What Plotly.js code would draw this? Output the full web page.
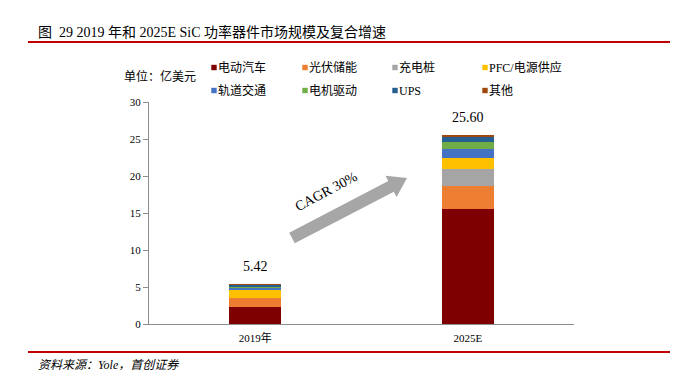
<!DOCTYPE html>
<html>
<head>
<meta charset="utf-8">
<script src="https://cdn.plot.ly/plotly-3.0.1.min.js"></script>
<style>html,body{margin:0;padding:0;background:#fff;}#chart{width:684px;height:381px;}</style>
</head>
<body>
<div id="chart"></div>
<script>
// ---- data ----
const categories = ["2019年", "2025E"];
const seriesNames = ["电动汽车", "光伏储能", "充电桩", "PFC/电源供应", "轨道交通", "电机驱动", "UPS", "其他"];
const evValues      = [2.30, 15.50];
const pvValues      = [1.22, 3.15];
const chargeValues  = [0.05, 2.26];
const pfcValues     = [1.04, 1.58];
const railValues    = [0.20, 1.16];
const motorValues   = [0.20, 0.95];
const upsValues     = [0.30, 0.68];
const otherValues   = [0.11, 0.32];
const totals        = [5.42, 25.60];
const totalLabels   = ["5.42", "25.60"];
const yTicks        = [0, 5, 10, 15, 20, 25, 30];

const seriesValues = [evValues, pvValues, chargeValues, pfcValues, railValues, motorValues, upsValues, otherValues];
const colors = ["#7f0000", "#ed7d31", "#a5a5a5", "#ffc000", "#4472c4", "#70ad47", "#255e91", "#9e480e"];

// ---- geometry helpers (pixel -> paper) ----
const L = 149, R = 574, T = 102, B = 324;
const px = x => (x - L) / (R - L);
const py = y => (B - y) / (B - T);

const serif = "Liberation Serif, Times New Roman, Noto Sans CJK SC, serif";
const cjk = "Liberation Serif, Noto Sans CJK SC, sans-serif";

const legendKey = i => (i === 0 ? "legend" : "legend" + (i + 1));

const traces = seriesNames.map((name, i) => ({
  type: "bar",
  name: name,
  x: categories,
  y: seriesValues[i],
  marker: {color: colors[i], line: {width: 0}},
  legend: legendKey(i),
  hoverinfo: "skip"
}));

// arrow polygon (pixel space)
const tail = [292, 238], tip = [407, 178];
const dx = tip[0] - tail[0], dy = tip[1] - tail[1];
const len = Math.hypot(dx, dy);
const u = [dx / len, dy / len], n = [-u[1], u[0]];
const bw = 6, hw = 12, hl = 18;
const base = [tip[0] - hl * u[0], tip[1] - hl * u[1]];
const pts = [
  [tail[0] - bw * n[0], tail[1] - bw * n[1]],
  [base[0] - bw * n[0], base[1] - bw * n[1]],
  [base[0] - hw * n[0], base[1] - hw * n[1]],
  tip,
  [base[0] + hw * n[0], base[1] + hw * n[1]],
  [base[0] + bw * n[0], base[1] + bw * n[1]],
  [tail[0] + bw * n[0], tail[1] + bw * n[1]]
];
const arrowPath = "M " + pts.map(p => px(p[0]).toFixed(4) + "," + py(p[1]).toFixed(4)).join(" L ") + " Z";

const annotations = [
  {text: "图  29 2019 年和 2025E SiC 功率器件市场规模及复合增速", xref: "paper", yref: "paper",
   x: px(36), y: py(32), xanchor: "left", yanchor: "middle", showarrow: false,
   font: {family: cjk, size: 14, color: "#000"}},
  {text: "单位：亿美元", xref: "paper", yref: "paper", x: px(122), y: py(76),
   xanchor: "left", yanchor: "middle", showarrow: false, font: {family: cjk, size: 12, color: "#000"}},
  {text: "<i>资料来源：Yole，首创证券</i>", xref: "paper", yref: "paper", x: px(36), y: py(365),
   xanchor: "left", yanchor: "middle", showarrow: false, font: {family: cjk, size: 12, color: "#000"}},
  {text: "CAGR 30%", xref: "paper", yref: "paper", x: px(326), y: py(191), textangle: -28,
   xanchor: "center", yanchor: "middle", showarrow: false, font: {family: serif, size: 14, color: "#000"}}
];
categories.forEach((c, i) => {
  annotations.push({text: totalLabels[i], x: c, y: totals[i], xref: "x", yref: "y",
    yanchor: "middle", yshift: 17, showarrow: false, font: {family: serif, size: 14, color: "#000"}});
});

const layout = {
  width: 684, height: 381,
  margin: {l: L, r: 684 - R, t: T, b: 381 - B, autoexpand: false},
  paper_bgcolor: "#fff", plot_bgcolor: "#fff",
  barmode: "stack", bargap: 0.755,
  showlegend: true,
  xaxis: {showline: true, linecolor: "#8c8c8c", linewidth: 1, ticks: "", showgrid: false, zeroline: false,
    ticklabelstandoff: 4, tickfont: {family: cjk, size: 11, color: "#000"}, fixedrange: true},
  yaxis: {range: [0, 30], tickvals: yTicks, ticktext: yTicks.map(String), showline: true, linecolor: "#8c8c8c",
    linewidth: 1, ticks: "outside", ticklen: 5, tickcolor: "#8c8c8c", showgrid: false, zeroline: false,
    tickfont: {family: serif, size: 11, color: "#000"}, fixedrange: true},
  shapes: [
    {type: "line", xref: "paper", yref: "paper", x0: px(28), x1: px(670), y0: py(42), y1: py(42),
     line: {color: "#c00000", width: 2}},
    {type: "line", xref: "paper", yref: "paper", x0: px(28), x1: px(670), y0: py(352), y1: py(352),
     line: {color: "#c00000", width: 2}},
    {type: "path", xref: "paper", yref: "paper", path: arrowPath, fillcolor: "#a6a6a6", line: {width: 0}}
  ],
  annotations: annotations
};

// one legend per entry, laid out in a 4x2 grid like the original
const colTextX = [218, 309, 399, 489];
const rowY = [67.5, 90.5];
seriesNames.forEach((name, i) => {
  layout[legendKey(i)] = {
    orientation: "h", x: px(colTextX[i % 4] - 40), y: py(rowY[Math.floor(i / 4)]),
    xanchor: "left", yanchor: "middle", bgcolor: "rgba(0,0,0,0)",
    font: {family: cjk, size: 12, color: "#000"}
  };
});

Plotly.newPlot("chart", traces, layout, {staticPlot: true, displayModeBar: false}).then(gd => {
  // shrink the legend swatches to small squares placed next to their text
  gd.querySelectorAll(".legendpoints path").forEach(p => {
    p.setAttribute("transform", "translate(36,0) scale(0.45)");
  });
});
</script>
</body>
</html>
